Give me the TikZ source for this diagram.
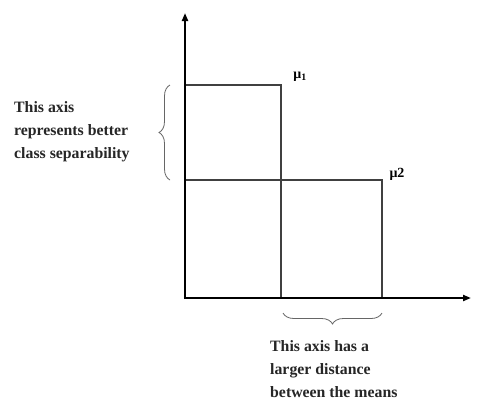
\documentclass[tikz,border=0pt]{standalone}
\usepackage{fontspec}
\setmainfont{Liberation Serif}
\usetikzlibrary{decorations.pathreplacing,arrows.meta}
\begin{document}
\begin{tikzpicture}[x=1pt,y=-1pt,
  axis/.style={line width=2.4pt,-{Triangle[length=8pt,width=6pt]}},
  box/.style={line width=1.1pt,draw=black!75},
  brc/.style={draw=black!60,line width=0.8pt,decorate,decoration={brace,amplitude=11pt}},
  lbl/.style={font=\fontsize{15.8}{23}\selectfont\bfseries,align=left,inner sep=0pt,text=black!85},
  mu/.style={font=\fontsize{14}{16}\selectfont\bfseries,inner sep=0pt}]
\useasboundingbox[fill=white] (0,0) rectangle (482,400);
\coordinate (O) at (185,298);
\coordinate (ytop) at (185,13);
\coordinate (xend) at (471,298);
\coordinate (a1) at (185,85);
\coordinate (b1) at (281,85);
\coordinate (c1) at (281,298);
\coordinate (a2) at (185,180);
\coordinate (b2) at (382,180);
\coordinate (c2) at (382,298);
\draw[box] (a1) -- (b1) -- (c1);
\draw[box] (a2) -- (b2) -- (c2);
\draw[axis] (185,299.2) -- (ytop);
\draw[axis] (183.8,298) -- (xend);
\node[mu] (m1) at (300,77) {μ\textsubscript{1}};
\node[mu] (m2) at (397,174) {μ2};
\coordinate (lb1) at (170,180);
\coordinate (lb2) at (170,85);
\draw[brc] (lb1) -- (lb2);
\coordinate (bb1) at (382,313);
\coordinate (bb2) at (283,313);
\draw[brc] (bb1) -- (bb2);
\node[lbl,anchor=west] (t1) at (14,132) {This axis\\represents better\\class separability};
\node[lbl,anchor=north west] (t2) at (270,340) {This axis has a\\larger distance\\between the means};
\end{tikzpicture}
\end{document}
